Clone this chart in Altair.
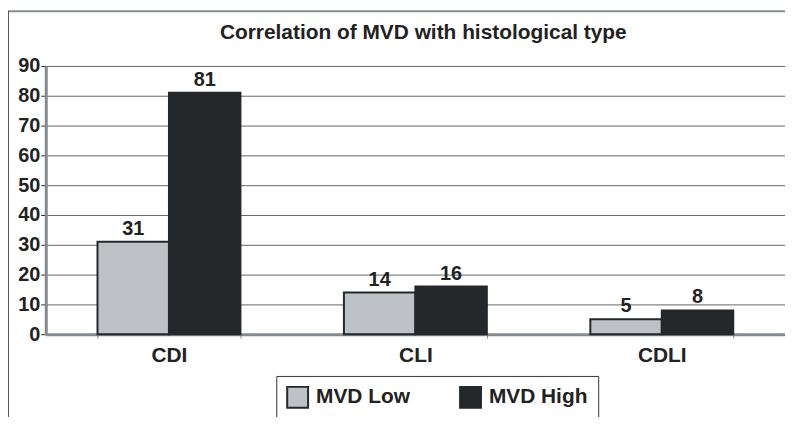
import altair as alt
import pandas as pd

categories = ["CDI", "CLI", "CDLI"]
series = ["MVD Low", "MVD High"]
low_values = [31, 14, 5]
high_values = [81, 16, 8]
colors = ["#bec2c7", "#24282b"]
y_ticks = list(range(0, 91, 10))

rows = []
for c, lo, hi in zip(categories, low_values, high_values):
    rows.append({"cat": c, "series": series[0], "value": lo})
    rows.append({"cat": c, "series": series[1], "value": hi})
df = pd.DataFrame(rows)

FONT = "Liberation Sans"
INK = "#222222"
FRAME = "#838a91"

x_enc = alt.X("cat:N", sort=categories,
              scale=alt.Scale(paddingInner=0.42, paddingOuter=0.21),
              axis=alt.Axis(title=None, labelAngle=0, labelFontSize=21, labelFontWeight="bold",
                            labelFont=FONT, labelColor=INK, labelPadding=6,
                            domainColor=FRAME, domainWidth=3, tickColor=FRAME, tickSize=4,
                            tickBand="extent", grid=False))
xo_enc = alt.XOffset("series:N", sort=series, scale=alt.Scale(paddingInner=0, paddingOuter=0))
y_enc = alt.Y("value:Q", scale=alt.Scale(domain=[0, 90], nice=False),
              axis=alt.Axis(title=None, values=y_ticks, labelFontSize=20, labelFontWeight="bold",
                            labelFont=FONT, labelColor=INK, labelPadding=1, labelOverlap=False,
                            domainColor=FRAME, domainWidth=3, tickColor=INK, tickSize=5,
                            grid=True, gridColor="#666666", gridWidth=1))

base = alt.Chart(df)

bars = base.mark_bar(stroke="#24282b", strokeWidth=2).encode(
    x=x_enc, xOffset=xo_enc, y=y_enc,
    color=alt.Color("series:N", sort=series,
                    scale=alt.Scale(domain=series, range=colors),
                    legend=alt.Legend(title=None, orient="none", legendX=232, legendY=312,
                                      direction="horizontal", columns=2, symbolType="square",
                                      symbolSize=441, symbolStrokeColor="#24282b",
                                      symbolStrokeWidth=2, labelFontSize=21,
                                      labelFontWeight="bold", labelFont=FONT, labelColor=INK,
                                      labelOffset=7, columnPadding=46, padding=10,
                                      strokeColor="#333333", fillColor="white")),
)

labels = base.mark_text(dy=-3, baseline="bottom", fontSize=20, fontWeight="bold",
                        font=FONT, color=INK).encode(
    x=x_enc, xOffset=xo_enc, y=y_enc, text="value:Q")

frame_df = pd.DataFrame({"k": [0]})
top_line = alt.Chart(frame_df).mark_rule(color=FRAME, strokeWidth=2).encode(
    x=alt.value(-41), x2=alt.value(748), y=alt.value(-55))
left_line = alt.Chart(frame_df).mark_rule(color=INK, strokeWidth=1.5).encode(
    x=alt.value(-38), y=alt.value(-55), y2=alt.value(362))

chart = alt.layer(bars, labels, top_line, left_line).properties(
    width=744, height=270,
    autosize=alt.AutoSizeParams(type="none"),
    padding={"left": 38, "top": 57, "right": 0, "bottom": 82},
    title=alt.Title("Correlation of MVD with histological type", fontSize=21,
                    fontWeight="bold", font=FONT, color=INK, offset=-33, anchor="middle", dx=8),
).configure_view(stroke=FRAME, strokeWidth=2.5).configure(background="white")

chart.save("out.html", embed_options={"renderer": "svg", "actions": False})
